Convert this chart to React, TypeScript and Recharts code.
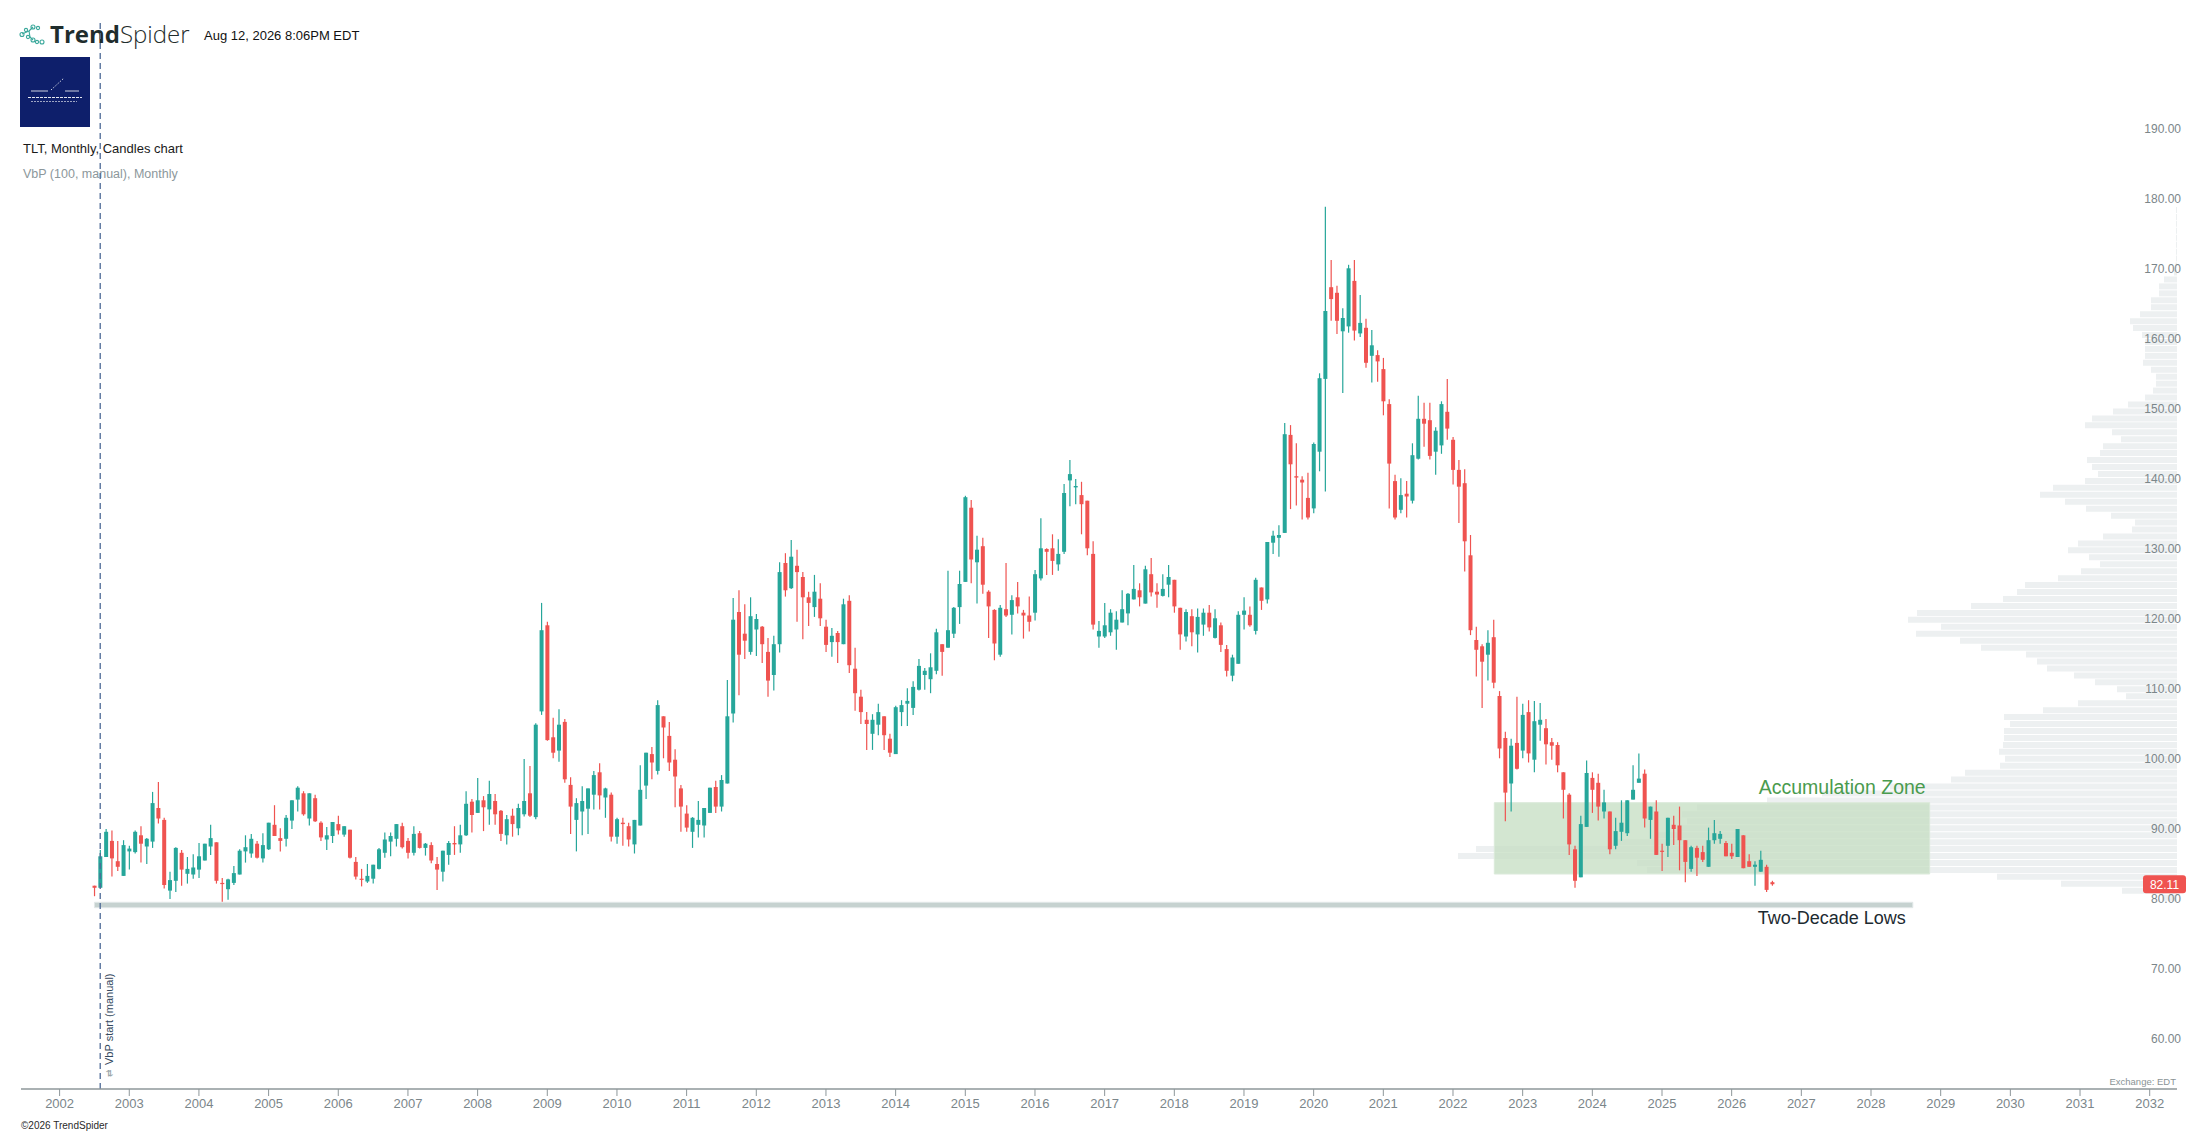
import React from 'react';
import { ComposedChart, BarChart, Bar, XAxis, YAxis, ReferenceArea, ReferenceLine } from 'recharts';

const W = 2207;
const H = 1135;
const FONT = '"Liberation Sans", Arial, Helvetica, sans-serif';

// ---------- data ----------
const startYear = 2002;
const startMonth = 7; // July 2002

const opens = [
  81.9, 81.6, 86.0, 88.3, 85.4, 83.3,
  86.8, 86.7, 89.1, 87.5, 88.2, 93.0, 91.3, 81.2, 82.6, 86.6, 83.6, 83.5,
  84.2, 85.5, 87.5, 88.1, 82.3, 81.4, 82.3, 83.5, 86.8, 86.5, 87.9, 85.8,
  87.1, 90.6, 88.7, 88.6, 91.2, 94.2, 95.1, 91.5, 94.4, 90.9, 88.5, 89.0,
  90.7, 89.2, 89.9, 85.3, 82.9, 82.5, 82.9, 84.3, 86.6, 88.2, 88.6, 90.4,
  88.3, 86.6, 89.4, 87.3, 87.7, 85.0, 83.9, 86.3, 88.0, 87.8, 89.1, 93.9,
  92.3, 94.1, 92.8, 94.0, 92.6, 89.1, 91.9, 90.1, 92.1, 95.1, 91.7, 106.8,
  119.1, 103.1, 101.2, 105.3, 96.3, 91.3, 92.5, 92.9, 94.9, 98.1, 94.5, 94.9,
  88.9, 90.9, 90.4, 87.8, 90.5, 96.2, 100.7, 98.3, 106.1, 103.3, 99.9, 95.8,
  92.2, 89.6, 90.6, 90.5, 92.3, 96.0, 93.2, 96.5, 106.5, 121.0, 117.9, 115.3,
  118.5, 118.9, 115.3, 112.0, 116.4, 128.0, 124.4, 127.6, 126.0, 123.1, 121.7, 122.9,
  118.9, 116.7, 118.0, 116.4, 122.6, 112.9, 108.9, 105.6, 103.6, 104.9, 106.1, 102.9,
  100.7, 106.7, 107.9, 107.3, 109.9, 112.0, 111.4, 112.6, 116.4, 115.9, 117.9, 121.7,
  125.3, 135.9, 128.1, 130.4, 123.9, 121.3, 114.9, 121.4, 120.6, 123.1, 120.9, 120.5,
  120.9, 125.8, 130.0, 130.1, 127.8, 129.6, 139.8, 138.8, 137.7, 136.9, 129.3, 117.5,
  117.5, 118.1, 118.5, 119.5, 120.8, 122.8, 124.1, 122.2, 126.4, 123.9, 123.3, 124.9,
  125.6, 121.6, 117.5, 120.4, 117.8, 119.2, 120.9, 117.3, 119.1, 115.7, 111.9, 113.6,
  120.6, 120.6, 118.3, 124.5, 122.8, 130.9, 131.6, 132.3, 146.3, 140.4, 139.9, 137.3,
  135.8, 143.9, 154.3, 167.4, 166.6, 161.1, 161.8, 168.3, 160.8, 161.6, 157.6, 157.7,
  155.7, 150.7, 139.7, 135.6, 137.9, 136.9, 142.9, 148.6, 148.4, 143.9, 144.8, 149.6,
  145.6, 141.3, 139.4, 129.1, 117.0, 116.1, 114.9, 117.4, 109.0, 103.0, 96.5, 102.3,
  101.2, 106.7, 99.9, 104.9, 104.4, 102.4, 102.0, 98.1, 94.9, 87.1, 83.1, 90.3,
  97.3, 96.6, 92.5, 92.5, 87.6, 89.6, 89.4, 94.2, 96.6, 97.9, 91.3, 92.5,
  86.9, 87.6, 90.6, 90.5, 88.4, 84.3, 87.3, 86.7, 84.6, 88.4, 88.6, 88.0,
  86.6, 86.0, 89.1, 85.4, 84.6, 83.9, 84.6, 82.4,
];

const highs = [
  81.9, 87.0, 90.0, 89.8, 88.3, 88.4,
  87.6, 89.8, 90.4, 88.7, 95.3, 96.7, 91.6, 83.9, 87.4, 87.0, 86.0, 86.4,
  88.0, 87.9, 90.6, 88.1, 83.0, 82.9, 84.7, 87.1, 89.1, 89.3, 88.3, 89.4,
  90.9, 93.4, 90.1, 92.0, 94.1, 96.1, 95.4, 95.1, 94.9, 91.1, 90.3, 91.0,
  91.9, 90.4, 89.9, 86.0, 84.3, 85.0, 84.9, 87.3, 89.5, 89.5, 90.7, 90.9,
  88.7, 90.4, 89.7, 88.0, 88.1, 86.0, 86.9, 88.3, 90.4, 90.6, 95.4, 94.3,
  97.3, 94.7, 96.9, 95.0, 92.7, 92.0, 92.9, 93.6, 100.0, 99.0, 105.1, 122.3,
  119.6, 105.9, 107.1, 105.7, 97.4, 94.4, 96.1, 95.8, 98.3, 99.4, 95.9, 95.2,
  91.6, 91.6, 90.9, 91.3, 99.1, 100.9, 101.7, 108.4, 106.1, 105.3, 101.4, 96.3,
  93.4, 91.7, 94.0, 93.0, 95.9, 96.9, 97.7, 111.3, 123.0, 124.1, 122.1, 123.1,
  120.7, 119.0, 117.3, 117.6, 128.1, 129.4, 131.3, 129.9, 126.7, 123.9, 126.3, 125.1,
  119.9, 118.7, 118.3, 122.9, 123.4, 115.9, 109.9, 106.7, 106.4, 107.9, 106.1, 103.6,
  107.6, 108.4, 110.1, 111.1, 114.3, 113.0, 115.1, 118.6, 116.4, 126.9, 121.7, 126.9,
  137.6, 137.0, 131.9, 131.6, 124.1, 121.4, 122.0, 128.0, 123.4, 125.3, 121.3, 123.2,
  127.0, 134.4, 130.1, 132.1, 131.4, 139.3, 142.7, 140.0, 139.6, 136.9, 131.1, 119.7,
  122.3, 121.4, 121.1, 124.1, 123.7, 127.7, 125.1, 127.6, 128.7, 125.1, 126.4, 127.7,
  125.6, 121.6, 121.4, 121.4, 121.5, 121.5, 122.0, 121.4, 119.5, 116.3, 114.9, 121.1,
  123.1, 121.8, 125.9, 124.5, 131.0, 132.6, 133.4, 148.0, 147.7, 145.1, 140.4, 140.9,
  145.2, 155.1, 178.9, 171.3, 167.6, 164.4, 170.6, 171.3, 166.3, 162.9, 161.3, 158.4,
  157.3, 151.4, 140.6, 140.1, 139.7, 145.1, 151.9, 150.9, 150.9, 147.4, 151.1, 154.3,
  146.0, 142.7, 141.4, 132.0, 118.9, 116.4, 118.4, 119.9, 109.7, 103.9, 102.9, 108.9,
  107.9, 108.4, 108.3, 108.0, 105.7, 103.0, 102.4, 98.1, 95.1, 87.6, 91.9, 99.8,
  98.1, 97.9, 95.6, 92.5, 91.6, 94.1, 94.1, 99.1, 100.8, 98.5, 93.2, 94.1,
  87.9, 91.6, 91.9, 93.2, 88.4, 87.6, 87.6, 87.6, 90.2, 91.3, 89.7, 88.3,
  87.9, 90.0, 89.1, 86.4, 85.4, 86.9, 84.9, 82.6,
];

const lows = [
  80.4, 81.6, 86.0, 83.2, 84.0, 83.3,
  84.2, 86.5, 85.2, 85.0, 87.3, 90.8, 81.5, 80.0, 81.0, 81.9, 82.2, 82.9,
  83.0, 85.5, 86.3, 82.2, 79.6, 79.9, 82.0, 83.5, 85.2, 85.9, 85.8, 85.2,
  87.0, 89.0, 86.8, 87.5, 90.0, 92.5, 91.9, 90.5, 91.0, 88.3, 87.0, 88.0,
  89.2, 88.9, 85.8, 82.8, 81.8, 82.3, 82.2, 84.2, 85.9, 86.1, 87.5, 87.2,
  85.8, 86.2, 87.2, 86.2, 85.1, 81.3, 82.5, 84.9, 86.3, 86.6, 89.0, 89.5,
  92.3, 89.7, 90.6, 90.6, 88.3, 87.8, 88.9, 89.1, 91.8, 91.7, 91.4, 106.3,
  102.6, 100.1, 99.6, 96.6, 89.3, 86.8, 89.1, 89.3, 92.8, 92.8, 91.6, 88.2,
  87.9, 87.6, 87.5, 86.5, 90.5, 94.3, 97.1, 97.8, 100.1, 98.3, 93.1, 89.6,
  89.6, 87.3, 88.8, 88.8, 92.3, 92.3, 92.5, 96.5, 105.2, 109.1, 114.3, 114.9,
  114.7, 113.7, 108.9, 109.8, 115.2, 123.2, 124.3, 119.6, 117.1, 119.0, 120.3, 119.0,
  115.3, 114.6, 113.7, 116.4, 112.3, 106.9, 105.0, 101.3, 101.3, 103.4, 101.3, 100.3,
  100.7, 104.7, 104.7, 106.3, 109.8, 109.9, 109.4, 112.1, 111.9, 115.9, 117.3, 119.3,
  125.3, 125.1, 122.2, 123.6, 117.3, 114.1, 114.6, 120.3, 117.8, 120.8, 117.2, 118.2,
  119.8, 125.5, 126.3, 126.3, 126.9, 129.3, 136.1, 136.4, 132.1, 129.1, 118.5, 115.9,
  117.3, 117.6, 115.6, 119.5, 119.1, 122.8, 121.8, 122.2, 123.2, 121.6, 123.2, 123.1,
  120.9, 115.6, 116.8, 116.1, 115.2, 117.6, 118.2, 117.2, 115.3, 111.8, 111.1, 113.6,
  118.5, 118.9, 117.8, 121.3, 122.2, 129.3, 128.9, 132.3, 135.7, 136.2, 134.2, 134.2,
  135.1, 141.1, 138.2, 162.6, 160.7, 152.3, 160.9, 159.8, 160.3, 155.9, 153.8, 153.9,
  149.1, 135.8, 134.2, 135.1, 134.5, 136.5, 142.8, 144.6, 142.8, 140.6, 143.6, 145.6,
  139.2, 133.7, 126.8, 117.7, 111.8, 107.3, 111.2, 110.1, 100.1, 91.1, 92.5, 98.5,
  100.1, 99.5, 98.1, 102.6, 99.2, 99.9, 98.1, 91.5, 86.3, 81.6, 83.1, 90.3,
  92.3, 91.2, 91.5, 86.4, 87.1, 88.3, 89.0, 94.2, 96.6, 90.2, 88.6, 86.3,
  84.0, 86.0, 87.7, 84.1, 82.4, 83.9, 83.3, 85.3, 84.6, 87.9, 87.9, 86.1,
  85.7, 86.0, 84.4, 84.6, 81.9, 83.9, 81.0, 81.9,
];

const closes = [
  81.6, 86.1, 89.6, 85.8, 84.6, 87.7,
  87.2, 89.6, 87.9, 88.6, 93.7, 91.5, 82.0, 82.7, 87.3, 84.2, 84.3, 84.5,
  86.1, 87.9, 88.7, 82.6, 82.2, 82.8, 83.7, 86.9, 87.4, 88.6, 85.9, 87.7,
  90.9, 89.0, 88.3, 91.6, 94.1, 95.9, 92.1, 95.1, 91.1, 88.8, 89.1, 91.0,
  89.8, 90.4, 85.9, 83.2, 82.8, 83.3, 84.9, 87.1, 88.5, 89.0, 90.7, 87.4,
  86.6, 89.3, 87.3, 87.9, 85.5, 84.2, 86.9, 88.0, 87.8, 89.1, 93.6, 92.0,
  94.1, 93.1, 95.0, 92.1, 89.3, 91.4, 90.7, 93.0, 94.0, 91.9, 104.9, 118.4,
  102.7, 100.9, 104.9, 97.1, 93.2, 93.7, 94.0, 95.8, 97.7, 94.8, 95.8, 88.9,
  91.4, 90.7, 88.5, 91.3, 95.6, 100.9, 99.5, 107.7, 104.5, 99.5, 97.5, 93.2,
  90.2, 91.6, 91.3, 93.0, 95.9, 93.2, 97.0, 106.1, 119.9, 114.9, 116.9, 120.4,
  120.0, 116.4, 111.2, 116.4, 126.7, 124.1, 128.9, 126.7, 123.1, 122.3, 123.9, 120.1,
  116.3, 117.6, 116.7, 122.1, 113.4, 109.4, 106.7, 105.0, 105.6, 106.7, 103.4, 100.9,
  107.4, 107.7, 108.3, 110.3, 113.3, 112.6, 113.1, 118.1, 115.3, 118.4, 121.6, 125.0,
  137.4, 128.5, 129.9, 124.9, 121.8, 116.5, 121.6, 120.5, 122.7, 121.8, 120.5, 119.6,
  126.4, 130.1, 129.6, 128.3, 129.3, 138.0, 140.7, 139.0, 136.4, 130.1, 119.2, 118.3,
  119.1, 120.9, 119.9, 121.4, 123.6, 124.3, 123.1, 127.1, 123.8, 123.5, 124.3, 126.0,
  121.8, 117.8, 121.0, 118.1, 120.3, 120.9, 118.8, 120.1, 116.3, 112.6, 114.5, 120.6,
  121.2, 119.1, 125.6, 122.6, 131.0, 131.9, 132.0, 146.4, 142.1, 140.2, 139.5, 134.5,
  145.0, 154.4, 164.0, 165.7, 162.6, 163.0, 170.1, 161.2, 162.3, 156.6, 159.1, 156.8,
  151.1, 142.2, 134.5, 137.7, 137.5, 143.4, 148.6, 147.9, 143.3, 146.9, 150.7, 147.2,
  141.3, 138.9, 131.1, 118.4, 115.6, 113.9, 116.6, 110.9, 101.5, 95.2, 101.9, 98.6,
  106.3, 100.8, 105.4, 105.6, 102.1, 101.9, 99.1, 95.6, 87.8, 82.6, 90.7, 98.0,
  95.6, 93.2, 93.8, 87.1, 89.7, 90.9, 94.1, 95.6, 97.2, 91.5, 93.2, 86.3,
  86.8, 91.6, 90.0, 88.4, 85.3, 87.4, 85.9, 85.6, 88.4, 89.4, 89.3, 86.1,
  86.1, 90.0, 84.4, 84.6, 84.9, 85.6, 81.3, 82.11,
];

const yearTicks = [
  2002, 2003, 2004, 2005, 2006, 2007, 2008, 2009, 2010, 2011, 2012, 2013, 2014, 2015, 2016,
  2017, 2018, 2019, 2020, 2021, 2022, 2023, 2024, 2025, 2026, 2027, 2028, 2029, 2030, 2031, 2032,
];
const priceTicks = [60, 70, 80, 90, 100, 110, 120, 130, 140, 150, 160, 170, 180, 190];

// Volume-by-price: 100 bins, lowest bin starts at vbpLow
const vbpLow = 79.62;
const vbpStep = 0.9924;
const vbpVolumes = [
  15, 55, 116, 180, 530, 540, 719, 701, 560, 520,
  500, 490, 495, 480, 410, 355, 287, 226, 212, 177,
  172, 178, 174, 173, 173, 167, 173, 134, 99, 51,
  60, 82, 103, 130, 140, 151, 196, 217, 261, 236,
  269, 260, 206, 174, 160, 152, 119, 96, 77, 88,
  109, 99, 74, 45, 42, 66, 91, 112, 137, 124,
  92, 79, 85, 90, 77, 74, 56, 65, 92, 85,
  64, 49, 32, 24, 21, 21, 26, 34, 32, 32,
  32, 35, 44, 47, 37, 26, 26, 18, 18, 13,
  3, 1.5, 1, 1, 1, 1, 1, 1, 1, 1,
];

const vbpStartDate = 2002.583;
const lastPrice = 82.11;
const lowsBand = { from: 2002.5, to: 2028.6, bottom: 78.76, top: 79.53 };
const accumulationZone = { from: 2022.593, to: 2028.842, bottom: 83.57, top: 93.76 };

const xDomain: [number, number] = [2001.446, 2032.392];
const yDomain: [number, number] = [52.857, 205.571];
const vbpScaleMax = 2156;

const candles = opens.map((o, i) => ({
  t: startYear + (startMonth - 1 + i) / 12,
  open: o,
  high: highs[i],
  low: lows[i],
  close: closes[i],
  range: [lows[i], highs[i]],
}));

const vbpData = vbpVolumes.map((v, i) => ({ price: vbpLow + vbpStep * (i + 0.5), volume: v }));

// ---------- renderers ----------
const UP = '#26a69a';
const DOWN = '#ef5350';

const Candle = (props: any) => {
  const { x, y, width, height, payload } = props;
  if (!payload || x == null || y == null) return null;
  const { open, close, high, low } = payload;
  const top = Math.min(y, y + height);
  const bot = Math.max(y, y + height);
  const span = high - low;
  const ppu = span > 0 ? (bot - top) / span : 0;
  const yOf = (v: number) => top + (high - v) * ppu;
  const cx = x + width / 2;
  const up = close >= open;
  const color = up ? UP : DOWN;
  const bTop = yOf(Math.max(open, close));
  const bBot = yOf(Math.min(open, close));
  const bh = Math.max(1.2, bBot - bTop);
  return (
    <g>
      <line x1={cx} x2={cx} y1={top} y2={bot} stroke={color} strokeWidth={1.2} />
      <rect x={cx - 2} y={bTop} width={4} height={bh} fill={color} />
    </g>
  );
};

const YearTick = (props: any) => {
  const { x, y, payload } = props;
  return (
    <text x={x} y={y} dy={12} textAnchor="middle" fontSize={13} fill="#7b868a" fontFamily={FONT}>
      {payload.value}
    </text>
  );
};

const PriceTick = (props: any) => {
  const { x, y, payload } = props;
  return (
    <text x={x + 4} y={y} dy={4} textAnchor="end" fontSize={12} fill="#7b868a" fontFamily={FONT}>
      {Number(payload.value).toFixed(2)}
    </text>
  );
};

const ZoneLabel = (props: any) => {
  const vb = props.viewBox || {};
  return (
    <text x={vb.x + vb.width - 4} y={vb.y - 9} textAnchor="end" fontSize={19.5} fill="#4a9b4e" fontFamily={FONT}>
      Accumulation Zone
    </text>
  );
};

const LowsLabel = (props: any) => {
  const vb = props.viewBox || {};
  return (
    <text x={vb.x + vb.width - 7} y={vb.y + vb.height + 16} textAnchor="end" fontSize={18} fill="#1c2a31" fontFamily={FONT}>
      Two-Decade Lows
    </text>
  );
};

const VbpStartLabel = (props: any) => {
  const vb = props.viewBox || {};
  const lx = (vb.x ?? 0) + 9;
  const by = (vb.y ?? 0) + (vb.height ?? 0);
  return (
    <g>
      <text x={lx} y={by - 24} transform={`rotate(-90 ${lx} ${by - 24})`} dy={4} fontSize={11} fill="#34495e" fontFamily={FONT}>
        VbP start (manual)
      </text>
      <text x={lx} y={by - 16} transform={`rotate(-90 ${lx} ${by - 16})`} dy={3} textAnchor="middle" fontSize={9} fill="#9aa6a9" fontFamily={FONT}>
        ⇄
      </text>
    </g>
  );
};

const PriceTag = (props: any) => {
  const vb = props.viewBox || {};
  const right = vb.x + vb.width;
  const cy = vb.y;
  return (
    <g>
      <rect x={right - 34} y={cy - 9} width={43} height={18} rx={3} fill="#ef5350" />
      <text x={right - 12.5} y={cy} dy={4.5} textAnchor="middle" fontSize={12} fill="#ffffff" fontFamily={FONT}>
        {lastPrice.toFixed(2)}
      </text>
    </g>
  );
};

const Header = () => (
  <svg width={W} height={H} style={{ position: 'absolute', left: 0, top: 0 }}>
    {/* spider icon */}
    <g stroke="#3aa89b" strokeWidth={1.1} fill="none">
      <line x1={22} y1={34} x2={29} y2={31} />
      <line x1={29} y1={31} x2={33} y2={27} />
      <line x1={29} y1={31} x2={30} y2={37} />
      <line x1={30} y1={37} x2={33} y2={40} />
      <circle cx={22} cy={34.5} r={2} />
      <circle cx={26} cy={30} r={1.6} />
      <circle cx={33} cy={27} r={2} />
      <circle cx={38} cy={28} r={1.6} />
      <circle cx={28} cy={37} r={1.6} />
      <circle cx={33} cy={40} r={2} />
      <circle cx={37} cy={42} r={1.6} />
      <circle cx={42} cy={42} r={2} />
    </g>
    <text x={50} y={42.5} fontSize={24} fill="#1f2d2d" fontFamily='"Open Sans", Arial, sans-serif'>
      <tspan fontWeight={700}>Trend</tspan>
      <tspan fontWeight={300}>Spider</tspan>
    </text>
    <text x={204} y={39.5} fontSize={13} fill="#111111" fontFamily={FONT}>Aug 12, 2026 8:06PM EDT</text>
    {/* brand square */}
    <rect x={20} y={57} width={70} height={70} fill="#0e1f6b" />
    <g stroke="#ffffff" strokeWidth={0.8}>
      <line x1={31} y1={91} x2={48} y2={91} />
      <line x1={65} y1={91} x2={79} y2={91} />
      <line x1={51} y1={90} x2={64} y2={78} strokeDasharray="1.5 1.5" />
      <line x1={28} y1={97.5} x2={82} y2={97.5} strokeDasharray="3 1" strokeWidth={0.9} />
      <line x1={31} y1={101.5} x2={77} y2={101.5} strokeDasharray="2 1" strokeWidth={0.6} />
    </g>
    <text x={23} y={152.5} fontSize={13} fill="#1a1a1a" fontFamily={FONT}>TLT, Monthly, Candles chart</text>
    <text x={23} y={178} fontSize={12.5} fill="#8c979b" fontFamily={FONT}>VbP (100, manual), Monthly</text>
    <text x={21} y={1129} fontSize={10} fill="#2a2a2a" fontFamily={FONT}>©2026 TrendSpider</text>
    <text x={2176} y={1085} textAnchor="end" fontSize={9.5} fill="#8a9496" fontFamily={FONT}>Exchange: EDT</text>
  </svg>
);

export default function App() {
  return (
    <div style={{ position: 'absolute', left: 0, top: 0, width: W, height: H, background: '#ffffff', overflow: 'hidden' }}>
      <div style={{ position: 'absolute', left: 0, top: 0 }}>
        <BarChart
          layout="vertical"
          width={W}
          height={H}
          data={vbpData}
          margin={{ top: 20, right: 30, bottom: 46, left: 21 }}
        >
          <XAxis type="number" domain={[0, vbpScaleMax]} reversed hide allowDataOverflow />
          <YAxis type="number" dataKey="price" domain={yDomain} reversed hide allowDataOverflow />
          <Bar dataKey="volume" fill="#edf0f1" barSize={6} isAnimationActive={false} />
        </BarChart>
      </div>
      <Header />
      <div style={{ position: 'absolute', left: 0, top: 0 }}>
        <ComposedChart width={W} height={H} data={candles} margin={{ top: 20, right: 0, bottom: 0, left: 21 }}>
          <XAxis
            dataKey="t"
            type="number"
            domain={xDomain}
            ticks={yearTicks}
            interval={0}
            allowDataOverflow
            height={46}
            tickSize={7}
            tickMargin={0}
            axisLine={{ stroke: '#8e979a', strokeWidth: 1.5 }}
            tickLine={{ stroke: '#8e979a' }}
            tick={<YearTick />}
          />
          <YAxis
            orientation="right"
            type="number"
            domain={yDomain}
            ticks={priceTicks}
            interval={0}
            allowDataOverflow
            width={30}
            tickSize={0}
            tickMargin={0}
            axisLine={false}
            tickLine={false}
            tick={<PriceTick />}
          />
          <ReferenceArea
            x1={lowsBand.from}
            x2={lowsBand.to}
            y1={lowsBand.bottom}
            y2={lowsBand.top}
            fill="#c6d2d0"
            fillOpacity={1}
            stroke="#e2e8e8"
            strokeWidth={1}
            label={<LowsLabel />}
          />
          <ReferenceArea
            x1={accumulationZone.from}
            x2={accumulationZone.to}
            y1={accumulationZone.bottom}
            y2={accumulationZone.top}
            fill="#c4dec2"
            fillOpacity={0.75}
            stroke="#dbeada"
            strokeWidth={1}
            label={<ZoneLabel />}
          />
          <ReferenceLine
            x={vbpStartDate}
            stroke="#4d6a96"
            strokeWidth={1.3}
            strokeDasharray="6 4"
            label={<VbpStartLabel />}
          />
          <Bar dataKey="range" barSize={4} isAnimationActive={false} shape={(p: any) => <Candle {...p} />} />
          <ReferenceLine y={lastPrice} stroke="none" strokeWidth={0} label={<PriceTag />} />
        </ComposedChart>
      </div>
    </div>
  );
}
